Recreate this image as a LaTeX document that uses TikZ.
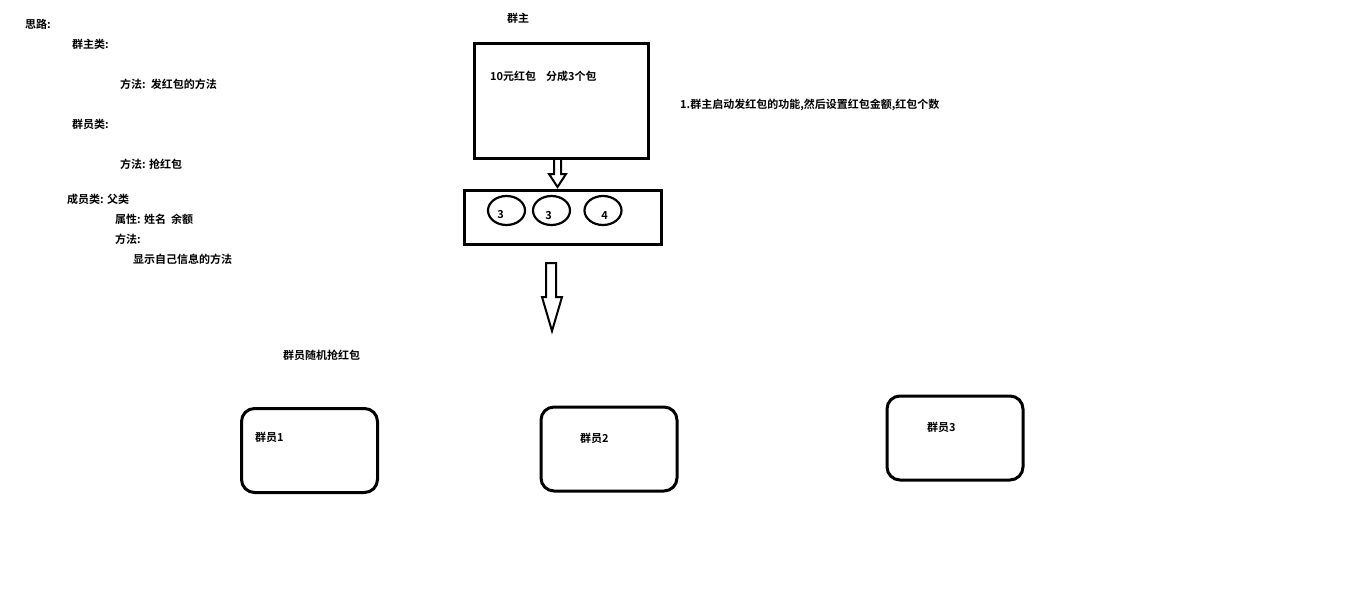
\documentclass[tikz,border=0pt]{standalone}
\usepackage{fontspec}
\newfontfamily\cjk{Noto Sans CJK SC Bold}
\usetikzlibrary{shapes.geometric}
\tikzset{
  txt/.style={anchor=west,inner sep=0pt,font=\cjk\fontsize{11}{12}\selectfont},
  num/.style={txt,anchor=center},
  box/.style={draw,line width=3pt,inner sep=0pt},
  member/.style={box,rounded corners=13pt,minimum width=136pt,minimum height=84pt},
  packet/.style={draw,line width=2.2pt,ellipse,inner sep=0pt,minimum width=37pt,minimum height=29pt},
  blockarrow/.style={line width=2pt}
}

\begin{document}
\begin{tikzpicture}[x=1pt,y=-1pt]
\useasboundingbox[fill=white] (0,0) rectangle (1360,605);
% notes on the left
\node[txt] (silu) at (25,24) {思路:};
\node[txt] (qzlei) at (72,44) {群主类:};
\node[txt] (qzfa) at (120,84) {方法:\ \ 发红包的方法};
\node[txt] (qylei) at (72,124) {群员类:};
\node[txt] (qyfa) at (120,164) {方法: 抢红包};
\node[txt] (cylei) at (67,199) {成员类: 父类};
\node[txt] (cysx) at (115,219) {属性: 姓名\ \ 余额};
\node[txt] (cyfa) at (115,239) {方法:};
\node[txt] (cyxs) at (133,259) {显示自己信息的方法};

% group owner and packets
\node[txt] (qunzhu) at (507,18) {群主};
\node[box,minimum width=174pt,minimum height=115pt] (owner) at (561.5,101) {};
\node[txt] (money) at (490,76) {10元红包\ \ \ \ 分成3个包};
\node[txt] (step1) at (680,105) {1.群主启动发红包的功能,然后设置红包金额,红包个数};
\node[box,minimum width=197pt,minimum height=54pt] (bag) at (563,217.5) {};
\node[packet] (p1) at (506.5,210.5) {};
\node[packet] (p2) at (551.5,210.5) {};
\node[packet] (p3) at (603,210.5) {};
\node[num] (p1txt) at (500.5,215) {3};
\node[num] (p2txt) at (548.5,215.5) {3};
\node[num] (p3txt) at (604.5,215.5) {4};
\draw[blockarrow] (554,160) -- (554,174) -- (549,174) -- (557.5,187) -- (566,174) -- (561,174) -- (561,160);
\draw[blockarrow] (546,263) -- (546,297) -- (542,297) -- (552,331) -- (562,297) -- (556,297) -- (556,263) -- cycle;

% members
\node[txt] (grab) at (283,355) {群员随机抢红包};
\node[member] (m1) at (309.5,450.5) {};
\node[member] (m2) at (609,449) {};
\node[member] (m3) at (955,438) {};
\node[txt] (m1txt) at (255,437) {群员1};
\node[txt] (m2txt) at (580,438) {群员2};
\node[txt] (m3txt) at (927,427) {群员3};
\end{tikzpicture}
\end{document}
